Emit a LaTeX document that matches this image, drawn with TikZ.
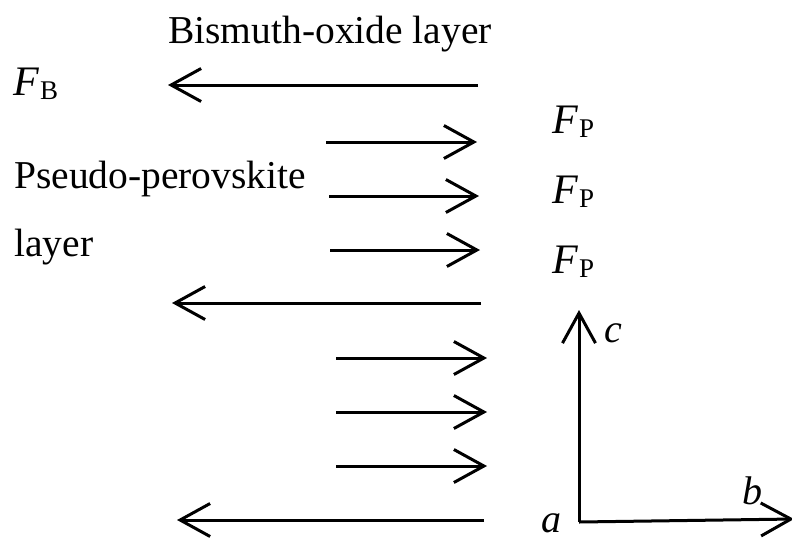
\documentclass[tikz,border=0pt]{standalone}
\usepackage{fontspec}
\setmainfont{Liberation Serif}
\usetikzlibrary{arrows.meta}
\begin{document}
\begin{tikzpicture}[x=1pt,y=-1pt,
  lbl/.style={anchor=base west,inner sep=0pt,font=\fontsize{39.5}{45}\selectfont},
  force/.style={line width=3pt,-{Straight Barb[length=30pt,width=33pt]}},
  axis/.style={line width=3pt,-{Straight Barb[length=30pt,width=33pt]}}]
\useasboundingbox (0,0) rectangle (792,539);
\newcommand{\FF}[1]{\fontsize{42}{45}\selectfont\textit{F}\kern1pt\raisebox{-4pt}{\fontsize{27}{30}\selectfont #1}}
% labels
\node[lbl] (title) at (168,43) {Bismuth-oxide layer};
\node[lbl] (fb) at (13,95) {\FF{B}};
\node[lbl] (pp) at (14,188) {Pseudo-perovskite};
\node[lbl] (ly) at (14,256) {layer};
\node[lbl] (fp1) at (552,133) {\FF{P}};
\node[lbl] (fp2) at (552,203) {\FF{P}};
\node[lbl] (fp3) at (552,273) {\FF{P}};
% arrows
\coordinate (l1s) at (478,85);  \coordinate (l1e) at (168,85);
\coordinate (r1s) at (326,142); \coordinate (r1e) at (477,142);
\coordinate (r2s) at (329,196); \coordinate (r2e) at (479,196);
\coordinate (r3s) at (330,250); \coordinate (r3e) at (480,250);
\coordinate (l2s) at (481,303); \coordinate (l2e) at (172,303);
\coordinate (r4s) at (336,358); \coordinate (r4e) at (487,358);
\coordinate (r5s) at (336,412); \coordinate (r5e) at (487,412);
\coordinate (r6s) at (336,466); \coordinate (r6e) at (487,466);
\coordinate (l3s) at (484,520); \coordinate (l3e) at (177,520);
\foreach \a in {l1,r1,r2,r3,l2,r4,r5,r6,l3}{\draw[force] (\a s) -- (\a e);}
% axes
\coordinate (O) at (579,522);
\coordinate (ctip) at (579,310);
\coordinate (btip) at (794,519);
\draw[axis] (O) -- (ctip);
\draw[axis] (O) -- (btip);
\node[lbl,font=\fontsize{40}{45}\selectfont\itshape] (la) at (541,532) {a};
\node[lbl,font=\fontsize{40}{45}\selectfont\itshape] (lb) at (742,504) {b};
\node[lbl,font=\fontsize{40}{45}\selectfont\itshape] (lc) at (604,342) {c};
\end{tikzpicture}
\end{document}
